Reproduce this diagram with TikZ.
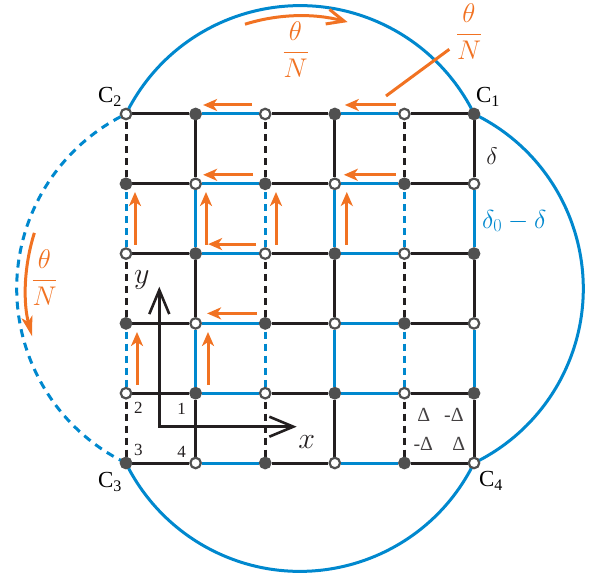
\RequirePackage{fix-cm}
\documentclass[tikz,border=0pt]{standalone}
\usepackage{fontspec}
\setmainfont{Liberation Serif}
\usetikzlibrary{arrows.meta,calc}
\pgfdeclarelayer{background}
\pgfsetlayers{background,main}
\definecolor{lblue}{RGB}{0,136,206}
\definecolor{lorange}{RGB}{241,114,34}
\definecolor{dotgray}{RGB}{80,80,80}
\definecolor{gridblack}{RGB}{35,31,32}
\begin{document}
\begin{tikzpicture}[x=1pt,y=1pt,
  dotbase/.style={circle, minimum size=10.5pt, inner sep=0pt, line width=2.2pt, draw=dotgray},
  filleddot/.style={dotbase, fill=dotgray},
  opendot/.style={dotbase, fill=white},
  bondline/.style={line width=3pt, line cap=butt},
  dashbond/.style={dash pattern=on 7pt off 5pt, dash phase=10pt},
  orarrow/.style={line width=3pt, draw=lorange, -{Stealth[length=14pt,width=12pt,inset=4pt]}},
  bigarc/.style={line width=3pt, draw=lblue},
  axisarrow/.style={line width=2.6pt, draw=gridblack, {Straight Barb[length=24pt,width=20pt]}-{Straight Barb[length=24pt,width=20pt]}},
  clabel/.style={font=\fontsize{23}{25}\selectfont, inner sep=0pt},
  numlabel/.style={font=\fontsize{17}{19}\selectfont, inner sep=0pt, text=gridblack},
  dlabel/.style={font=\fontsize{20}{22}\selectfont, inner sep=0pt, text=gridblack!85},
  fraclabel/.style={font=\fontsize{27}{30}\selectfont, inner sep=0pt, text=lorange},
  mathlabel/.style={font=\fontsize{24}{27}\selectfont, inner sep=0pt},
  axislabel/.style={font=\fontsize{30}{32}\selectfont, inner sep=0pt, text=gridblack}
]
\useasboundingbox (0,0) rectangle (596,581);

% lattice sites
\foreach \i in {0,...,5}{
  \foreach \j in {0,...,5}{
    \pgfmathtruncatemacro{\parity}{mod(\i+\j,2)}
    \ifnum\parity=0
      \node[opendot] (n\i-\j) at ({126+69.6*\i},{467-69.8*\j}) {};
    \else
      \node[filleddot] (n\i-\j) at ({126+69.6*\i},{467-69.8*\j}) {};
    \fi
  }
}

\begin{pgfonlayer}{background}
% big arcs
\draw[bigarc] (n0-0.center) arc[start angle=153.8, end angle=26.2, radius=194];
\draw[bigarc] (n5-0.center) arc[start angle=64.1, end angle=-64.1, radius=194];
\draw[bigarc] (n5-5.center) arc[start angle=-26.2, end angle=-153.8, radius=194];
\draw[bigarc, dash pattern=on 8pt off 6pt] (n0-5.center) arc[start angle=244.1, end angle=115.9, radius=194];
% horizontal bonds
\foreach \j in {0,...,5}{
  \foreach \i [evaluate=\i as \k using int(\i+1)] in {0,...,4}{
    \pgfmathtruncatemacro{\cb}{mod(\i,2)}
    \ifnum\cb=1 \def\bcol{lblue}\else\def\bcol{gridblack}\fi
    \draw[bondline, draw=\bcol] (n\i-\j) -- (n\k-\j);
  }
}
% vertical bonds
\foreach \i in {0,...,5}{
  \foreach \j [evaluate=\j as \k using int(\j+1)] in {0,...,4}{
    \pgfmathtruncatemacro{\cb}{mod(\j,2)}
    \pgfmathtruncatemacro{\dsh}{mod(\i,2)}
    \ifnum\cb=1 \def\bcol{lblue}\else\def\bcol{gridblack}\fi
    \ifnum\dsh=0 \def\bpat{dashbond}\else\def\bpat{solid}\fi
    \draw[bondline, draw=\bcol, \bpat] (n\i-\j) -- (n\i-\k);
  }
}
\end{pgfonlayer}

% orange horizontal arrows
\draw[orarrow] ($(n2-0)+(-13,9)$) -- ($(n1-0)+(7.5,9)$);
\draw[orarrow] ($(n4-0)+(-8.5,9)$) -- ($(n3-0)+(10,9)$);
\draw[orarrow] ($(n2-1)+(-12,9)$) -- ($(n1-1)+(7.5,9)$);
\draw[orarrow] ($(n4-1)+(-8.5,9)$) -- ($(n3-1)+(9,9)$);
\draw[orarrow] ($(n2-2)+(-9,9.5)$) -- ($(n1-2)+(12.5,9.5)$);
\draw[orarrow] ($(n2-3)+(-8,10)$) -- ($(n1-3)+(11.5,10)$);
% orange vertical arrows
\draw[orarrow] ($(n0-2)+(9,8.6)$) -- ($(n0-1)+(9,-8.2)$);
\draw[orarrow] ($(n1-2)+(10.4,8.6)$) -- ($(n1-1)+(10.4,-8.2)$);
\draw[orarrow] ($(n2-2)+(10.8,8.6)$) -- ($(n2-1)+(10.8,-8.2)$);
\draw[orarrow] ($(n3-2)+(12,8.6)$) -- ($(n3-1)+(12,-8.2)$);
\draw[orarrow] ($(n0-4)+(11,8.2)$) -- ($(n0-3)+(11,-8.6)$);
\draw[orarrow] ($(n1-4)+(12.4,8.2)$) -- ($(n1-3)+(12.4,-8.6)$);

% orange curved arrows
\coordinate (topcen) at (300,381.2);
\coordinate (leftcen) at (210.8,292.5);
\draw[line width=3pt, draw=lorange, -{Straight Barb[length=17pt,width=15pt]}] ($(topcen)+(107.4:184)$) arc[start angle=107.4, end angle=75, radius=184];
\draw[line width=3pt, draw=lorange, -{Stealth[length=20pt,width=11pt,inset=5pt]}] ($(leftcen)+(162.5:185)$) arc[start angle=162.5, end angle=195, radius=185];

% fraction labels
\node[fraclabel] (f1) at (295.5,531.5) {$\displaystyle\frac{\theta}{N}$};
\node[fraclabel] (f2) at (469,549.5) {$\displaystyle\frac{\theta}{N}$};
\node[fraclabel] (f3) at (44.5,303.5) {$\displaystyle\frac{\theta}{N}$};
\coordinate (pstart) at (386,485);
\coordinate (pend) at (449.3,531.7);
\draw[line width=3pt, draw=lorange] (pstart) -- (pend);

% corner labels
\node[clabel] (c2) at (110,484) {C\textsubscript{2}};
\node[clabel] (c1) at (488,484) {C\textsubscript{1}};
\node[clabel] (c3) at (110,99) {C\textsubscript{3}};
\node[clabel] (c4) at (491,100) {C\textsubscript{4}};

% delta labels
\node[mathlabel, text=gridblack] (d1) at (492,425) {$\delta$};
\node[mathlabel, font=\fontsize{26}{28}\selectfont, text=lblue, anchor=west] (d2) at (482,360) {$\delta_0-\delta$};

% site numbers
\node[numlabel] (k2) at (138.3,172.7) {2};
\node[numlabel] (k1) at (181.7,171.7) {1};
\node[numlabel] (k3) at (138.3,131) {3};
\node[numlabel] (k4) at (181.7,129.3) {4};

% Delta labels
\node[dlabel] (g1) at (423.7,166.5) {Δ};
\node[dlabel] (g2) at (454,166.5) {-Δ};
\node[dlabel] (g3) at (423.3,137.5) {-Δ};
\node[dlabel] (g4) at (458.8,137.5) {Δ};

% axes
\coordinate (origin) at (159.3,154.3);
\coordinate (ytip) at (159.3,294.3);
\coordinate (xtip) at (296.7,154.3);
\draw[axisarrow] (ytip) -- (origin) -- (xtip);
\node[axislabel] (ylab) at (141.7,301) {$y$};
\node[axislabel] (xlab) at (306.7,139) {$x$};
\end{tikzpicture}
\end{document}
